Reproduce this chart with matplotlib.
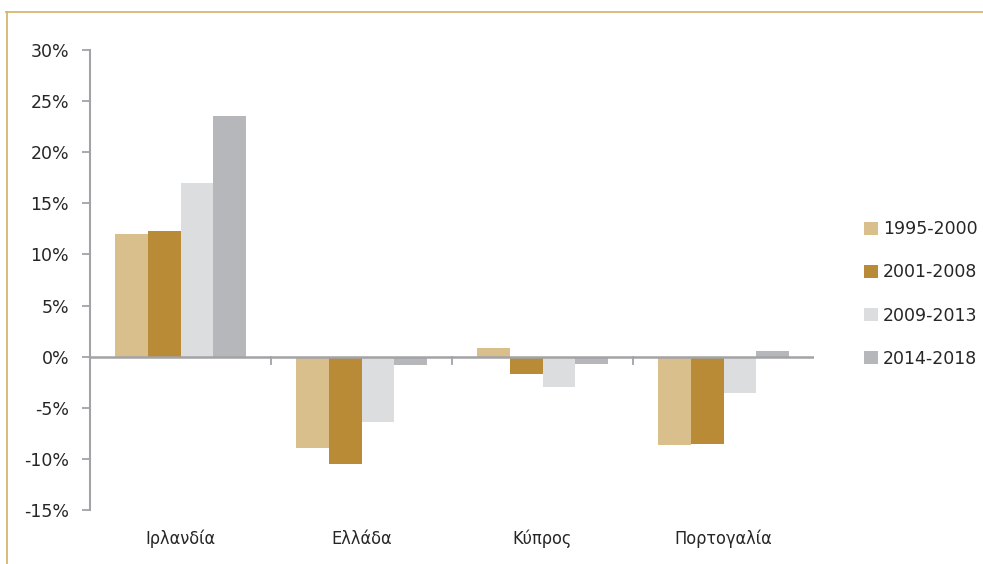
import matplotlib
matplotlib.use("Agg")
import matplotlib.pyplot as plt
from matplotlib.lines import Line2D
from matplotlib.ticker import FuncFormatter
import numpy as np

plt.rcParams['font.family'] = ['DejaVu Sans']

countries = ["Ιρλανδία", "Ελλάδα", "Κύπρος", "Πορτογαλία"]
periods = ["1995-2000", "2001-2008", "2009-2013", "2014-2018"]
v_1995_2000 = [12.0, -8.9, 0.85, -8.65]
v_2001_2008 = [12.3, -10.5, -1.65, -8.5]
v_2009_2013 = [17.0, -6.4, -3.0, -3.6]
v_2014_2018 = [23.5, -0.8, -0.7, 0.6]
series = [v_1995_2000, v_2001_2008, v_2009_2013, v_2014_2018]
colors = ["#D9BF8C", "#BA8B36", "#DCDDDF", "#B6B7BB"]

W, H = 983, 564
fig = plt.figure(figsize=(W / 100, H / 100), dpi=100)

# outer frame: top and left golden rules
fig.add_artist(Line2D([6 / W, 1.0], [1 - 12 / H, 1 - 12 / H], color="#D6AE66", lw=1.2))
fig.add_artist(Line2D([7 / W, 7 / W], [0, 1 - 12 / H], color="#D6AE66", lw=1.2))

ax = fig.add_axes([90 / W, 1 - 510 / H, (814 - 90) / W, (510 - 50) / H])

x = np.arange(len(countries))
bw = 0.182
for i, (vals, c) in enumerate(zip(series, colors)):
    ax.bar(x + (i - 1.5) * bw, vals, width=bw, color=c, label=periods[i], zorder=2)

ax.set_xlim(-0.5, len(countries) - 0.5)
ax.set_ylim(-15, 30)
ax.set_yticks(np.arange(-15, 31, 5))
ax.yaxis.set_major_formatter(FuncFormatter(lambda v, p: f"{int(v)}%"))

axis_col = "#A3A3A7"
for s in ["top", "right", "bottom"]:
    ax.spines[s].set_visible(False)
ax.spines["left"].set_color(axis_col)
ax.spines["left"].set_linewidth(1.5)
ax.axhline(0, color=axis_col, lw=1.8, zorder=3)

ax.tick_params(axis="y", length=6, width=1.3, color=axis_col, labelsize=12.5,
               labelcolor="#262626", pad=9)
ax.set_xticks([])
# category separators on the zero line
for b in np.arange(0.5, len(countries) - 0.5, 1.0):
    ax.plot([b, b], [0, -0.75], color=axis_col, lw=1.3, zorder=3, clip_on=False)
for xi, name in zip(x, countries):
    ax.text(xi, -17.8, name, ha="center", va="center", fontsize=13,
            color="#262626", fontstretch="condensed")

leg = fig.legend(loc="center left", bbox_to_anchor=(848 / W, 1 - 294 / H),
                 frameon=False, fontsize=12.5, handlelength=0.8, handleheight=0.8,
                 labelspacing=1.45, handletextpad=0.3)
for t in leg.get_texts():
    t.set_color("#262626")

fig.savefig("out.png", dpi=100)
